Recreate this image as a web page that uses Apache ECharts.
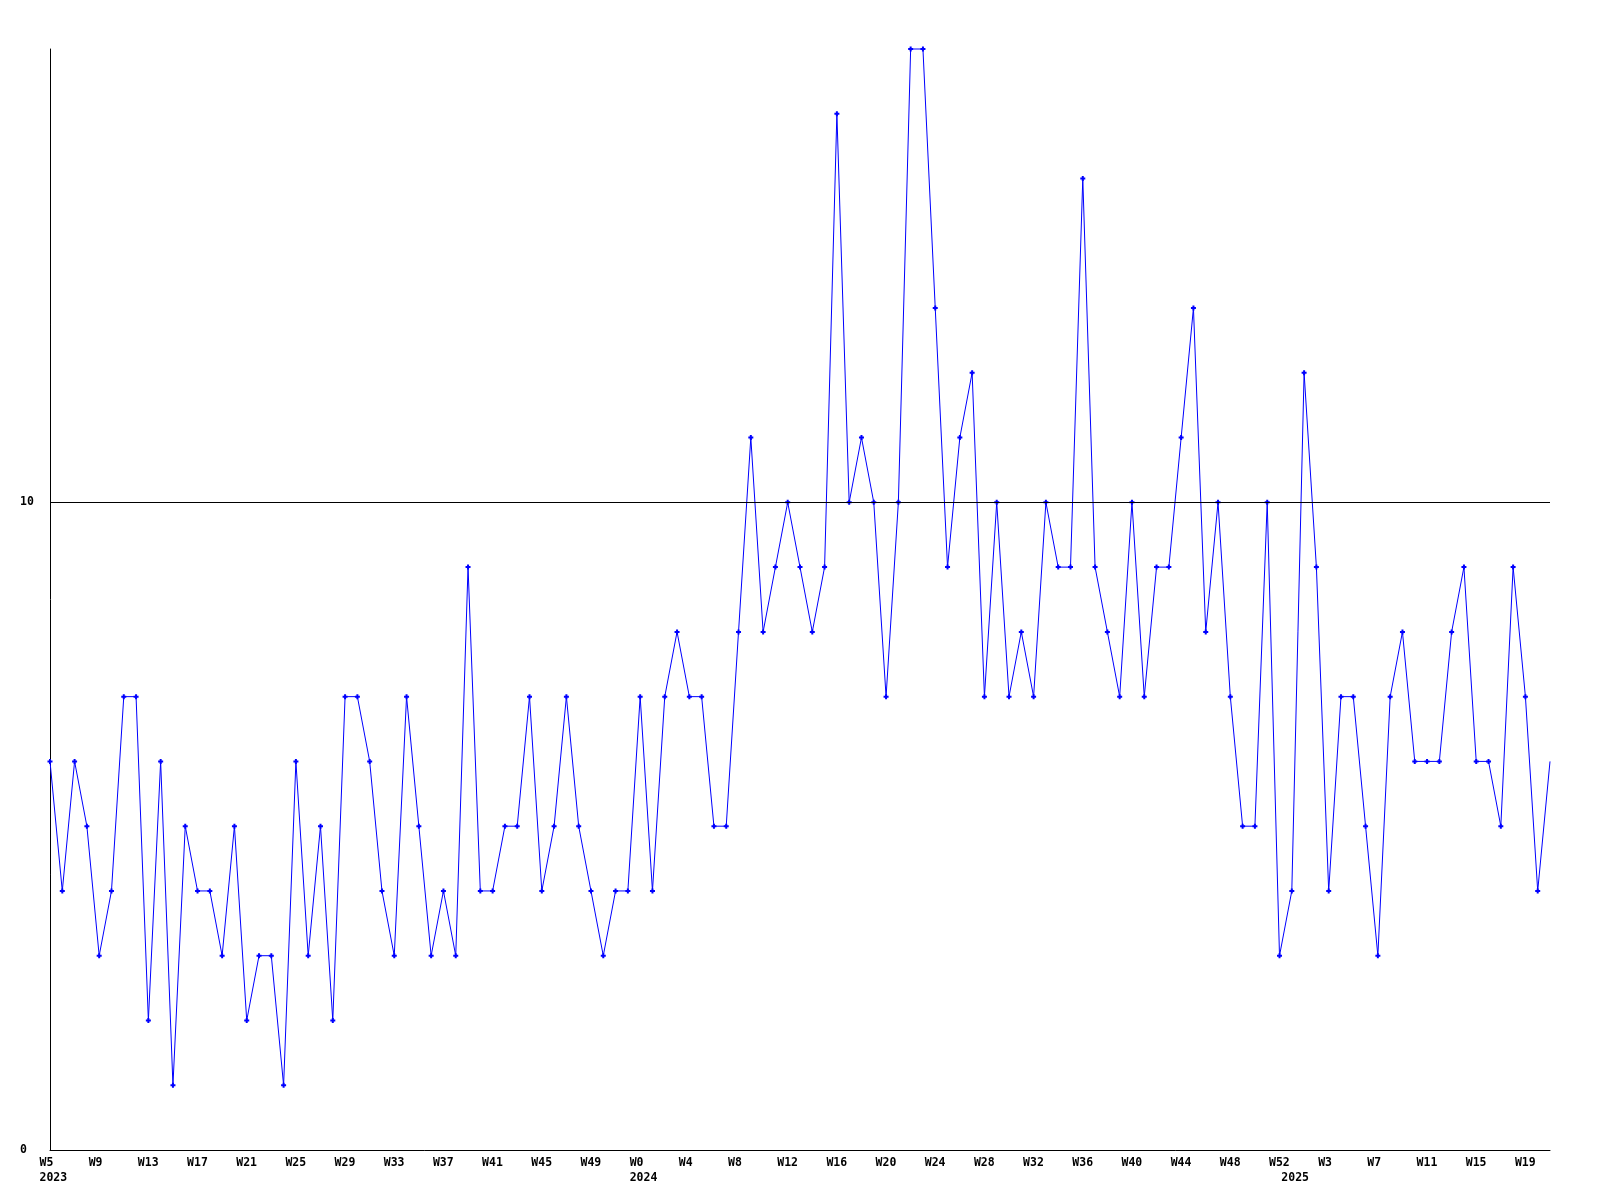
<!DOCTYPE html>
<html>
<head>
<meta charset="utf-8">
<script src="https://cdn.jsdelivr.net/npm/echarts@6/dist/echarts.min.js"></script>
<style>
html,body{margin:0;padding:0;background:#fff;}
#chart{width:1600px;height:1200px;}
</style>
</head>
<body>
<div id="chart"></div>
<script>
// Year / week ranges of the categories (weekly data)
const yearWeekRanges = [
  ['2023', 5, 52],
  ['2024', 0, 52],
  ['2025', 0, 21]
];

// Weekly values, in category order
const values = [
  6,4,6,5,3,4,7,7,2,6,
  1,5,4,4,3,5,2,3,3,1,
  6,3,5,2,7,7,6,4,3,7,
  5,3,4,3,9,4,4,5,5,7,
  4,5,7,5,4,3,4,4,7,4,
  7,8,7,7,5,5,8,11,8,9,
  10,9,8,9,16,10,11,10,7,10,
  17,17,13,9,11,12,7,10,7,8,
  7,10,9,9,15,9,8,7,10,7,
  9,9,11,13,8,10,7,5,5,10,
  3,4,12,9,4,7,7,5,3,7,
  8,6,6,6,8,9,6,6,5,9,
  7,4,6
];

const yTickLabels = ['0', '10'];

// Build categories
const categories = [];
const weekLabel = [];
const yearLabel = [];
yearWeekRanges.forEach(([yr, a, b]) => {
  for (let w = a; w <= b; w++) {
    categories.push(yr + '-W' + w);
    weekLabel.push('W' + w);
    yearLabel.push(w === a ? yr : '');
  }
});

const font = '"DejaVu Sans Mono", "Liberation Mono", monospace';
const chart = echarts.init(document.getElementById('chart'), null, {renderer: 'canvas'});

const seriesData = values.map((v, i) => i === values.length - 1 ? {value: v, symbol: 'none'} : v);

chart.setOption({
  animation: false,
  backgroundColor: '#ffffff',
  grid: [
    {left: 50, top: 49, width: 1500, height: 1101, containLabel: false},
    {left: 39.5, top: 49, width: 1500, height: 1101, containLabel: false}
  ],
  xAxis: [
    {
      type: 'category', gridIndex: 0, data: categories, boundaryGap: false,
      axisLine: {show: true, lineStyle: {color: '#000', width: 1}},
      axisTick: {show: false},
      axisLabel: {show: false},
      splitLine: {show: false}
    },
    {
      type: 'category', gridIndex: 1, data: categories, boundaryGap: false,
      axisLine: {show: false},
      axisTick: {show: false},
      splitLine: {show: false},
      axisLabel: {
        show: true,
        align: 'left',
        margin: 6,
        color: '#000',
        fontFamily: font,
        fontWeight: 'bold',
        fontSize: 11.5,
        lineHeight: 15,
        interval: (idx) => idx % 4 === 0 || yearLabel[idx] !== '',
        formatter: (val, idx) => {
          const w = idx % 4 === 0 ? weekLabel[idx] : '';
          return yearLabel[idx] ? (w + '\n' + yearLabel[idx]) : w;
        }
      }
    }
  ],
  yAxis: [
    {
      type: 'value', gridIndex: 0, min: 0, max: 17, interval: 10,
      axisLine: {show: true, lineStyle: {color: '#000', width: 1}},
      axisTick: {show: false},
      splitLine: {show: false},
      axisLabel: {
        show: true, align: 'left', margin: 30, color: '#000',
        fontFamily: font, fontWeight: 'bold', fontSize: 11.5,
        showMaxLabel: false,
        formatter: (v) => yTickLabels.includes(String(v)) ? String(v) : ''
      }
    },
    {type: 'value', gridIndex: 1, min: 0, max: 17, show: false}
  ],
  series: [
    {
      type: 'line',
      xAxisIndex: 0, yAxisIndex: 0,
      data: seriesData,
      lineStyle: {color: '#0000ff', width: 1},
      itemStyle: {color: '#0000ff'},
      symbol: 'path://M1.5,0H3.5V1.5H5V3.5H3.5V5H1.5V3.5H0V1.5H1.5Z',
      symbolSize: 5,
      showAllSymbol: true,
      clip: false,
      markLine: {
        silent: true,
        symbol: 'none',
        label: {show: false},
        lineStyle: {color: '#000', width: 1, type: 'solid'},
        data: [{yAxis: 10}]
      }
    }
  ]
});
</script>
</body>
</html>
